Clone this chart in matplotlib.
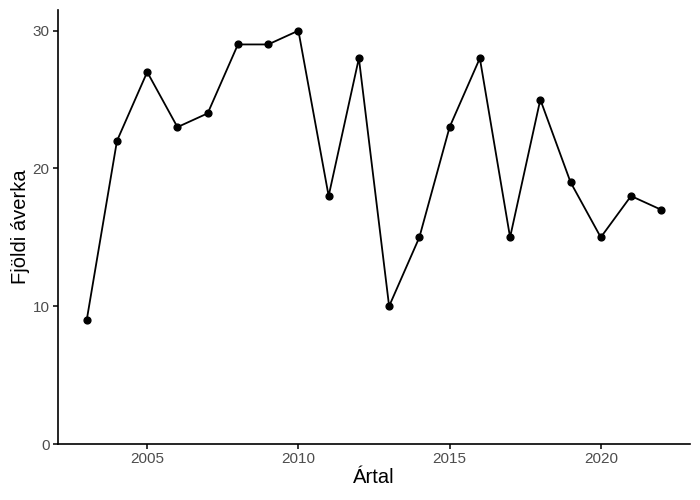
import matplotlib
matplotlib.use("Agg")
import matplotlib.pyplot as plt

years = list(range(2003, 2023))
counts = [9, 22, 27, 23, 24, 29, 29, 30, 18, 28, 10, 15, 23, 28, 15, 25, 19, 15, 18, 17]
xticks = [2005, 2010, 2015, 2020]
yticks = [0, 10, 20, 30]

plt.rcParams['font.family'] = ['Liberation Sans', 'DejaVu Sans']

fig = plt.figure(figsize=(7, 5), dpi=100)
ax = fig.add_axes([58/700, 56/500, 632/700, 434/500])
ax.plot(years, counts, color='black', lw=1.3)
ax.scatter(years, counts, color='black', s=24, zorder=3)
ax.set_xlim(2003 - 0.95, 2022 + 0.95)
ax.set_ylim(0, 31.5)
ax.set_xticks(xticks)
ax.set_yticks(yticks)
for s in ['top', 'right']:
    ax.spines[s].set_visible(False)
for s in ['left', 'bottom']:
    ax.spines[s].set_linewidth(1.2)
ax.tick_params(axis='both', length=3.5, width=1.1, colors='black', labelcolor='#4d4d4d', labelsize=11, pad=2.5)
ax.set_xlabel('Ártal', fontsize=14.5, labelpad=1)
ax.set_ylabel('Fjöldi áverka', fontsize=14.5, labelpad=2)
fig.savefig('out.png', dpi=100)
